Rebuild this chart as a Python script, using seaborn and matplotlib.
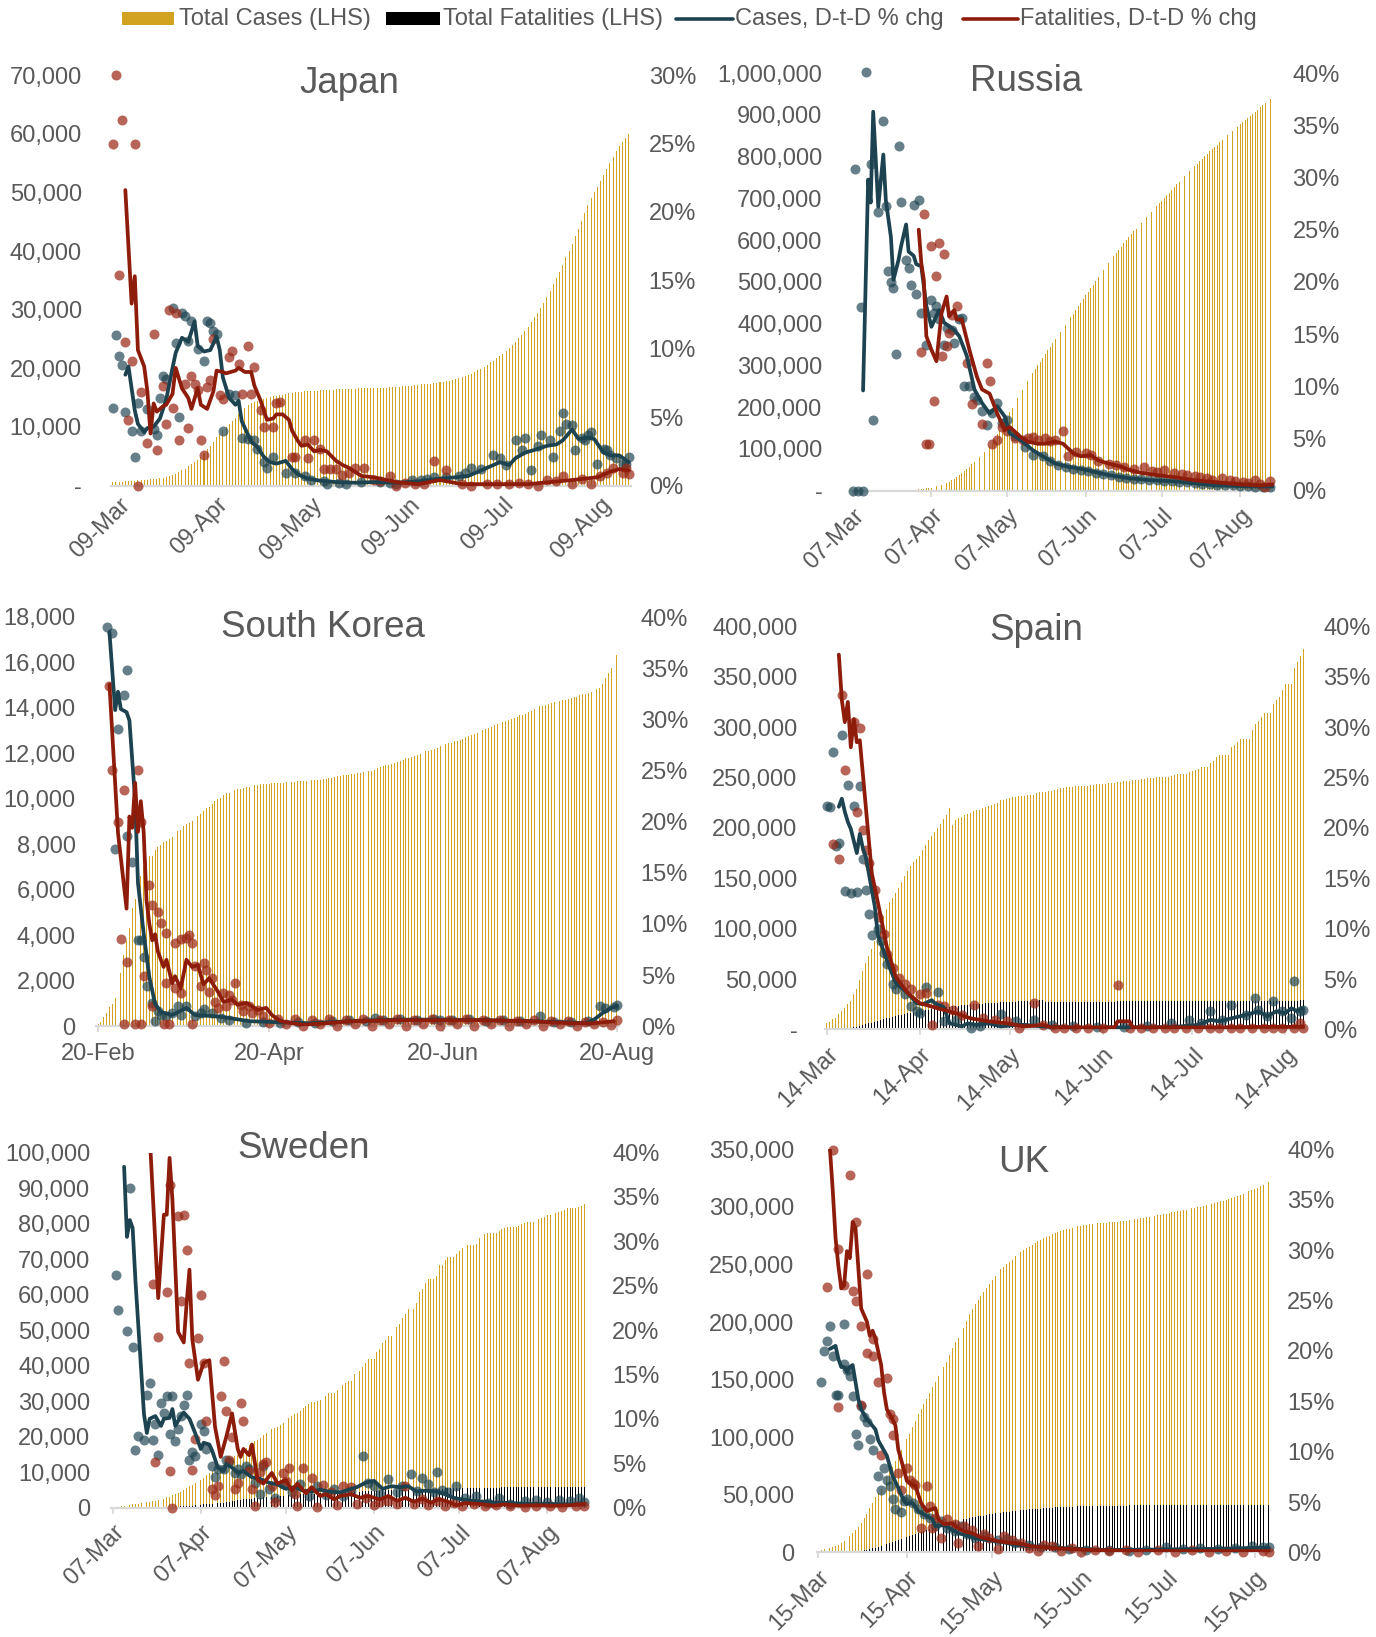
import matplotlib
matplotlib.use("Agg")
import numpy as np
import pandas as pd
import seaborn as sns
import matplotlib.pyplot as plt
from matplotlib.patches import Rectangle
from matplotlib.lines import Line2D

# ---------------- data (cases / fatalities in thousands, changes in %) ----------------
jp_start = "2020-03-07"
jp_cases = [0.6,0.62,0.65,0.68,0.72,0.76,0.8,0.84,0.88,0.92,
            0.96,1.0,1.05,1.1,1.15,1.2,1.3,1.4,1.55,1.75,
            2.0,2.3,2.6,2.9,3.3,3.7,4.0,4.3,4.9,5.6,
            6.2,6.8,7.5,8.2,8.8,9.4,10.0,10.5,11.0,11.6,
            12.2,12.8,13.3,13.7,14.0,14.3,14.5,14.7,14.8,15.0,
            15.1,15.2,15.3,15.4,15.5,15.6,15.7,15.8,15.9,15.95,
            16.0,16.05,16.1,16.15,16.2,16.2,16.25,16.3,16.3,16.35,
            16.35,16.4,16.4,16.45,16.45,16.5,16.5,16.5,16.55,16.55,
            16.6,16.6,16.6,16.65,16.65,16.7,16.7,16.7,16.75,16.75,
            16.8,16.85,16.9,16.95,17.0,17.05,17.1,17.2,17.25,17.3,
            17.35,17.4,17.45,17.5,17.6,17.7,17.8,17.9,18.0,18.2,
            18.35,18.5,18.7,18.9,19.1,19.4,19.7,19.9,20.2,20.6,
            21.0,21.3,21.7,22.1,22.5,22.9,23.4,23.9,24.5,25.1,
            25.7,26.4,27.1,27.9,28.7,29.5,30.3,31.2,32.2,33.2,
            34.3,35.4,36.5,37.7,38.9,40.0,41.2,42.5,43.8,45.2,
            46.5,47.8,49.0,50.0,51.0,52.0,53.0,54.0,55.0,56.0,
            57.0,57.9,58.6,59.3,59.9]
jp_case_line = [(4,8.1),(5,8.7),(7,5.5),(8,4.5),(10,3.9),(11,4.2),(13,4.3),(15,4.9),(17,6.3),(19,8.6),
                (20,9.7),(22,10.8),(24,10.5),(26,12.0),(27,10.2),(29,9.8),(31,9.9),(33,10.9),(34,9.9),(35,7.9),
                (37,6.4),(39,5.9),(40,6.2),(41,4.7),(43,3.7),(44,3.2),(46,2.8),(48,2.1),(50,1.7),(52,1.6),
                (55,1.8),(57,1.2),(59,0.8),(62,0.5),(66,0.35),(71,0.25),(77,0.2),(83,0.25),(90,0.2),(97,0.3),
                (104,0.5),(109,0.6),(113,0.7),(119,1.3),(123,1.7),(126,1.5),(128,2.0),(131,2.4),(134,2.6),(138,2.9),
                (141,3.0),(143,3.3),(146,4.1),(148,3.4),(151,3.5),(153,3.4),(156,2.4),(158,2.2),(161,2.2),(164,1.7)]
jp_fat_line = [(4,21.6),(6,13.3),(7,15.3),(8,9.9),(10,8.7),(11,6.9),(12,3.8),(13,6.0),(14,5.4),(16,5.8),
               (17,5.9),(19,6.7),(20,8.6),(22,7.1),(24,6.4),(25,5.6),(27,7.1),(28,5.9),(30,5.6),(32,6.9),
               (33,8.4),(35,8.3),(36,8.2),(39,8.4),(40,8.6),(42,8.3),(44,8.3),(45,7.3),(47,6.2),(49,4.8),
               (51,4.9),(52,5.2),(54,5.2),(56,4.8),(57,4.0),(59,3.2),(60,2.9),(62,3.0),(64,2.5),(66,2.6),
               (68,2.5),(71,1.8),(73,1.5),(75,1.3),(77,1.0),(79,0.7),(83,0.6),(90,0.25),(97,0.1),(104,0.4),
               (111,0.1),(119,0.1),(132,0.1),(139,0.25),(146,0.4),(154,0.6),(158,1.0),(161,1.2),(164,1.1)]
jp_case_dots = [(0,5.7),(1,11.0),(2,9.5),(3,8.8),(4,5.4),(6,4.0),(7,2.1),(8,6.0),(9,4.0),(11,5.6),
                (13,4.1),(14,3.7),(15,6.4),(16,8.0),(17,7.8),(19,13.0),(20,10.4),(21,5.0),(22,12.6),(23,12.4),
                (24,10.6),(25,12.0),(27,10.0),(29,9.1),(30,12.0),(31,11.9),(32,11.3),(33,11.1),(35,4.0),(37,6.7),
                (39,6.6),(41,3.5),(43,3.4),(45,3.3),(46,2.7),(48,1.7),(49,1.3),(51,2.1),(55,0.9),(58,0.9),
                (61,0.7),(63,0.4),(67,0.3),(68,0.1),(72,0.2),(74,0.1),(79,0.25),(85,0.25),(88,0.2),(90,0.1),
                (95,0.4),(98,0.4),(100,0.5),(102,0.6),(106,0.6),(110,0.7),(112,0.9),(114,1.3),(117,1.2),(121,2.2),
                (123,2.0),(125,1.5),(128,3.3),(130,2.6),(131,3.5),(133,1.1),(135,2.9),(136,3.7),(139,3.3),(140,2.1),
                (142,4.0),(143,5.3),(144,4.5),(146,4.4),(147,2.6),(149,3.5),(150,3.3),(151,3.7),(152,3.9),(154,1.6),
                (156,2.7),(157,2.6),(158,2.2),(160,2.0),(162,1.6),(163,1.6),(164,2.1)]
jp_fat_dots = [(0,25.0),(1,30.0),(3,26.7),(7,25.0),(2,15.4),(4,10.5),(6,9.1),(5,4.8),(8,0.0),(9,6.8),
               (11,3.1),(13,11.1),(14,2.6),(16,7.3),(17,4.5),(18,12.8),(19,5.7),(20,12.6),(21,3.3),(23,7.4),
               (24,4.2),(25,8.0),(26,7.4),(27,7.0),(28,3.3),(29,2.2),(30,7.2),(31,7.7),(32,10.7),(34,6.6),
               (35,6.3),(37,9.4),(38,9.8),(40,8.9),(41,6.7),(43,10.2),(44,6.7),(45,8.7),(47,5.5),(48,4.3),
               (51,4.3),(52,6.0),(53,6.1),(57,2.1),(58,2.1),(61,3.3),(62,2.0),(64,3.3),(66,2.7),(67,1.2),
               (69,1.2),(71,1.2),(73,0.8),(75,0.9),(77,1.3),(80,1.3),(83,0.4),(85,0.3),(88,0.7),(90,0.0),
               (93,0.2),(96,0.1),(99,0.1),(102,1.8),(106,1.1),(111,0.1),(114,0.0),(119,0.1),(122,0.1),(126,0.1),
               (129,0.2),(132,0.1),(135,0.0),(138,0.4),(141,0.3),(143,0.7),(146,0.1),(149,0.5),(152,0.1),(155,0.7),
               (157,0.9),(159,1.3),(162,0.9),(163,1.3),(164,0.85)]

ru_start = "2020-03-07"
ru_cases = [0.01,0.01,0.02,0.02,0.03,0.03,0.04,0.06,0.06,0.09,
            0.11,0.15,0.2,0.25,0.3,0.37,0.44,0.5,0.66,0.84,
            1.04,1.26,1.53,1.84,2.34,
            2.8,3.5,4.1,4.7,5.4,6.3,7.5,8.7,10.1,11.9,
            13.6,15.8,18.3,21.1,24.5,27.9,32.0,36.8,42.9,47.1,
            52.8,57.9,62.8,68.6,74.6,80.9,87.1,93.6,99.4,106.5,
            114.4,124.1,134.7,145.3,155.4,165.9,177.2,187.9,198.7,209.7,
            221.3,232.2,242.3,252.2,262.8,272.0,281.8,290.7,299.9,308.7,
            317.6,326.4,335.9,344.5,353.4,362.3,370.7,379.1,387.6,396.6,405.8,
            414.9,423.2,432.3,441.1,449.8,458.7,467.7,476.7,485.3,493.7,
            502.4,511.4,520.1,528.9,537.2,545.5,553.3,561.1,569.1,576.9,
            584.7,592.3,599.7,606.9,613.9,620.8,627.6,634.4,641.2,647.8,
            654.4,661.2,667.9,674.5,681.3,687.9,694.2,700.8,707.3,713.9,
            720.5,727.2,733.7,739.9,746.4,752.8,759.2,765.4,771.5,777.5,
            783.3,789.2,795.0,800.8,806.7,812.5,818.1,823.5,828.9,834.5,839.9,
            845.4,850.9,856.3,861.4,866.6,871.9,877.1,882.3,887.5,892.6,
            897.6,902.7,907.8,912.8,917.9,922.9,927.7,932.5,937.3,942.1]
ru_case_line = [(4,9.6),(6,29.8),(7,27.6),(8,36.3),(10,27.2),(12,32.2),(13,27.8),(15,24.3),(16,20.2),(18,22.1),
                (19,23.4),(21,25.5),(22,22.9),(24,22.5),(25,21.7),(27,21.5),(29,17.7),(31,15.7),(34,17.3),(36,16.1),
                (40,15.4),(42,14.8),(45,12.9),(48,9.7),(51,8.4),(54,7.4),(57,8.1),(60,7.1),(62,5.5),(66,4.9),
                (71,3.9),(75,3.3),(80,2.6),(85,2.3),(92,2.0),(101,1.5),(109,1.2),(118,1.0),(127,0.9),(135,0.7),
                (144,0.5),(153,0.45),(161,0.4),(166,0.4)]
ru_fat_line = [(26,25.0),(27,21.8),(28,20.2),(29,14.8),(31,13.5),(33,12.4),(35,17.0),(37,18.6),(38,16.7),(40,17.3),
               (41,16.4),(43,16.4),(46,13.5),(49,10.9),(51,9.7),(54,9.3),(57,7.4),(60,5.8),(62,6.1),(66,5.2),
               (69,4.7),(73,4.5),(76,4.5),(80,4.7),(83,4.5),(87,3.6),(90,3.3),(94,3.4),(97,2.9),(101,2.6),
               (106,2.3),(109,2.0),(114,1.7),(120,1.5),(127,1.3),(135,1.0),(144,0.8),(153,0.6),(161,0.5),(166,0.6)]
ru_case_dots = [(0,0.0),(2,0.0),(4,0.0),(1,30.8),(3,17.6),(5,40.1),(7,31.3),(8,6.8),(10,26.7),(12,35.4),
                (13,27.3),(14,21.0),(15,20.0),(16,19.4),(17,13.1),(18,33.0),(19,27.7),(21,22.1),(22,21.3),(23,19.7),
                (24,27.4),(25,18.8),(26,27.8),(27,17.0),(29,14.0),(31,18.3),(32,17.0),(33,17.7),(34,16.4),(36,14.0),
                (37,15.6),(39,15.4),(40,14.1),(42,16.4),(43,16.5),(44,10.0),(46,10.0),(48,9.0),(49,8.7),(51,7.6),
                (53,6.3),(55,7.4),(57,8.4),(59,6.5),(61,6.8),(64,5.2),(68,4.2),(71,3.4),(75,3.3),(78,2.8),
                (81,2.5),(84,2.3),(87,2.1),(90,2.0),(93,1.9),(96,1.7),(99,1.6),(102,1.5),(105,1.3),(108,1.2),
                (111,1.15),(114,1.1),(117,1.0),(120,1.0),(123,0.95),(126,0.9),(129,0.85),(132,0.8),(135,0.7),(138,0.65),
                (141,0.6),(144,0.55),(147,0.5),(150,0.5),(153,0.45),(156,0.45),(159,0.4),(162,0.4),(165,0.4)]
ru_fat_dots = [(28,26.5),(27,13.3),(31,23.4),(34,23.7),(36,22.7),(33,20.6),(32,8.6),(29,4.5),(30,4.5),(35,12.9),
               (37,13.9),(38,15.1),(39,16.8),(41,17.7),(45,12.2),(51,6.4),(53,12.2),(54,10.5),(47,8.3),(55,4.5),
               (57,4.9),(59,6.1),(61,5.7),(64,5.0),(67,4.9),(69,5.0),(71,5.1),(73,4.9),(76,5.0),(78,4.8),
               (80,4.9),(83,5.7),(85,3.3),(88,3.7),(92,3.6),(94,3.4),(97,2.8),(101,2.6),(104,2.5),(107,2.3),
               (111,2.1),(115,2.3),(118,1.9),(120,1.8),(123,2.0),(127,1.7),(130,1.6),(132,1.5),(135,1.4),(137,1.3),
               (140,1.2),(142,1.0),(146,1.2),(149,1.0),(151,0.9),(154,0.8),(156,0.7),(159,1.0),(161,0.6),(163,0.4),
               (165,0.9)]

kr_start = "2020-02-20"
kr_cases = [0.10,0.20,0.43,0.60,0.83,0.98,1.26,1.77,2.34,3.15,
            3.74,4.34,5.19,5.62,6.09,6.59,7.04,7.31,7.48,7.51,
            7.76,7.87,7.98,8.09,8.16,8.24,8.32,8.41,8.57,8.65,
            8.80,8.90,8.96,9.04,9.14,9.24,9.33,9.48,9.58,9.66,9.79,
            9.89,9.98,10.06,10.16,10.24,10.28,10.33,10.38,10.42,10.45,
            10.48,10.51,10.54,10.56,10.59,10.61,10.64,10.65,10.66,
            10.67,10.68,10.69,10.70,10.71,10.72,10.73,10.74,10.75,10.76,10.77,
            10.77,10.78,10.79,10.80,10.81,10.82,10.83,10.84,10.87,10.87,
            10.91,10.94,10.96,10.99,11.02,11.04,11.05,11.07,11.08,11.11,
            11.12,11.14,11.17,11.19,11.21,11.23,11.27,11.34,11.40,11.44,11.47,
            11.50,11.54,11.59,11.63,11.67,11.72,11.78,11.81,11.85,11.90,
            11.95,11.99,12.05,12.09,12.12,12.16,12.20,12.26,12.31,12.37,
            12.42,12.44,12.48,12.54,12.56,12.60,12.65,12.72,12.76,12.80,
            12.85,12.90,12.97,13.03,13.09,13.14,13.18,13.24,13.29,13.34,
            13.37,13.42,13.48,13.51,13.55,13.61,13.67,13.71,13.75,13.82,
            13.88,13.94,13.98,14.09,14.09,14.15,14.18,14.20,14.25,14.27,14.30,
            14.34,14.37,14.39,14.42,14.46,14.50,14.56,14.60,14.63,14.66,
            14.71,14.77,14.82,14.87,15.04,15.32,15.52,15.76,16.06,16.35]
kr_case_line = [(4,38.5),(6,30.9),(7,32.7),(8,31.0),(10,30.7),(11,29.9),(13,22.1),(14,14.0),(16,9.1),(18,4.8),
                (20,2.2),(22,1.4),(26,1.1),(31,1.8),(34,1.1),(40,1.0),(44,0.9),(53,0.5),(63,0.4),(74,0.3),
                (89,0.5),(104,0.65),(120,0.65),(135,0.6),(151,0.5),(163,0.4),(171,0.3),(174,0.65),(177,1.3),(180,1.8),
                (182,2.0)]
kr_fat_line = [(4,33.4),(7,18.9),(10,11.5),(11,20.5),(12,19.4),(13,23.8),(14,19.0),(15,22.0),(16,19.0),(17,12.3),
               (18,10.0),(19,8.4),(20,9.0),(21,7.3),(23,5.8),(24,6.5),(26,4.2),(27,4.9),(29,3.7),(31,6.5),
               (33,5.8),(35,6.0),(37,4.1),(39,4.7),(42,3.4),(44,2.4),(47,2.6),(49,2.1),(52,2.3),(56,1.6),
               (59,1.8),(61,1.1),(64,0.5),(68,0.3),(72,0.15),(80,0.3),(89,0.5),(104,0.6),(120,0.6),(135,0.6),
               (151,0.5),(166,0.3),(174,0.3),(181,0.5)]
kr_case_dots = [(3,39.0),(5,38.4),(10,34.8),(7,29.1),(9,32.4),(6,17.3),(10,18.6),(12,16.1),(14,8.4),(15,8.4),
                (16,6.8),(17,3.9),(19,2.3),(20,0.5),(21,1.5),(22,1.1),(24,1.0),(26,1.3),(28,2.0),(29,1.1),
                (31,2.0),(34,1.0),(36,1.3),(37,1.7),(40,1.3),(43,0.8),(46,0.65),(52,0.3),(58,0.4),(64,0.3),
                (70,0.4),(76,0.3),(82,0.5),(88,0.6),(94,0.5),(97,0.8),(100,0.6),(106,0.7),(112,0.6),(118,0.7),
                (120,0.65),(124,0.6),(130,0.7),(136,0.5),(142,0.6),(148,0.5),(155,1.0),(160,0.4),(166,0.4),(172,0.5),
                (176,2.0),(178,1.8),(181,1.9),(182,2.1)]
kr_fat_dots = [(4,33.3),(5,25.0),(7,20.0),(8,8.5),(9,0.2),(9,23.1),(10,6.3),(13,0.2),(14,25.0),(15,0.2),
               (15,20.0),(16,4.9),(18,13.8),(19,11.9),(19,2.0),(21,11.2),(22,10.1),(23,0.2),(24,9.1),(24,4.2),
               (25,0.2),(27,8.1),(27,3.7),(29,8.5),(29,3.3),(31,8.6),(32,8.9),(33,0.2),(33,8.1),(34,5.9),
               (36,3.9),(37,6.2),(38,5.5),(39,3.4),(40,4.7),(41,2.4),(42,1.8),(44,3.3),(45,2.0),(46,3.1),
               (47,2.6),(48,4.2),(50,2.1),(51,1.5),(53,2.0),(54,1.3),(56,1.6),(58,1.0),(60,0.3),(63,0.7),
               (66,0.2),(69,0.7),(72,0.0),(75,0.6),(78,0.2),(81,0.7),(84,0.0),(87,0.6),(90,0.2),(93,0.7),
               (96,0.0),(99,0.6),(102,0.2),(105,0.7),(108,0.0),(111,0.6),(114,0.2),(117,0.7),(120,0.0),(123,0.6),
               (126,0.2),(129,0.7),(132,0.0),(135,0.6),(138,0.2),(141,0.6),(144,0.0),(147,0.5),(150,0.2),(153,0.6),
               (156,0.0),(159,0.5),(162,0.2),(165,0.5),(168,0.0),(171,0.4),(174,0.2),(177,0.4),(180,0.1),(182,0.6)]

es_start = "2020-03-14"
es_cases = [6.4,7.8,9.9,11.8,14.8,18.1,21.6,25.5,28.6,35.1,
            39.9,49.5,57.8,65.7,73.2,80.1,87.9,95.9,
            104.1,112.1,119.2,126.2,130.8,135.0,140.5,146.7,152.4,157.0,
            161.9,166.0,169.5,
            172.5,177.6,182.8,188.1,191.7,195.9,200.2,204.2,208.4,213.0,219.8,
            203.0,207.6,209.5,210.8,212.9,213.4,
            215.2,216.6,217.5,218.0,219.3,220.3,221.4,222.9,223.6,224.4,
            227.4,228.0,228.7,229.5,230.2,230.7,231.4,231.6,232.0,232.6,
            233.0,233.0,234.8,235.3,235.4,235.8,236.3,237.0,237.9,238.3,239.2,
            239.6,240.3,240.7,241.0,241.3,241.6,241.7,241.7,241.9,242.3,
            242.7,243.2,243.6,243.9,243.9,244.1,244.3,244.7,245.3,245.6,
            246.3,246.5,246.8,247.1,247.5,247.9,248.5,248.8,249.3,249.3,
            249.7,250.1,250.5,250.5,250.5,251.0,251.8,252.5,253.1,253.9,
            253.9,253.9,255.0,256.6,257.5,258.9,260.3,260.3,260.3,264.1,
            266.2,270.2,272.4,272.4,272.4,272.4,280.6,282.6,285.4,288.5,288.5,
            288.5,288.5,297.1,302.8,305.8,309.9,314.4,314.4,314.4,322.9,
            326.6,329.8,337.3,342.8,342.8,342.8,359.1,364.2,370.9,377.9]
es_deaths = [0.20,0.29,0.34,0.53,0.6,0.83,1.04,1.38,1.76,2.31,
             2.8,3.43,4.15,5.14,5.98,6.8,7.72,8.46,
             9.39,10.0,10.9,11.7,12.4,13.1,13.8,14.6,15.2,15.8,
             16.4,16.97,17.5,18.1,18.6,19.1,19.6,20.0,20.4,20.9,
             21.3,21.7,22.2,22.5,22.9,23.2,23.5,23.8,24.3,24.5,
             24.8,25.1,25.3,25.4,25.6,25.8,26.1,26.3,26.5,26.6,
             26.7,26.9,27.1,27.3,27.5,27.6,27.7,27.7,27.8,27.9,
             27.9,28.0,28.6,28.7,28.8,26.8,27.1,27.1,27.1,27.1,27.1,
             27.1,27.1,27.1,27.1,27.1,27.1,27.1,27.1,27.1,27.1,
             27.1,27.2,27.2,27.2,27.2,27.2,27.2,27.2,28.3,28.3,
             28.3,28.3,28.3,28.3,28.3,28.3,28.3,28.3,28.3,28.4,
             28.4,28.4,28.4,28.4,28.4,28.4,28.4,28.4,28.4,28.4,
             28.4,28.4,28.4,28.4,28.4,28.4,28.4,28.4,28.4,28.4,
             28.4,28.4,28.4,28.4,28.4,28.4,28.4,28.4,28.4,28.4,28.4,
             28.5,28.5,28.5,28.5,28.5,28.5,28.5,28.5,28.5,28.5,
             28.6,28.6,28.6,28.6,28.6,28.6,28.6,28.6,28.7,28.8]
es_case_line = [(4,22.1),(5,22.9),(6,21.6),(7,20.6),(8,19.9),(10,17.5),(11,19.4),(12,18.0),(13,17.1),(14,15.5),
                (16,12.2),(17,9.4),(20,6.9),(23,4.6),(27,3.6),(30,2.6),(32,2.5),(35,2.9),(36,2.6),(39,2.2),
                (41,0.6),(45,0.3),(47,0.6),(50,0.45),(54,0.6),(58,0.3),(63,0.45),(66,0.45),(72,0.3),(79,0.2),
                (87,0.1),(94,0.2),(101,0.2),(109,0.2),(116,0.25),(124,0.45),(128,0.95),(131,0.8),(135,1.1),(140,1.45),
                (144,1.8),(147,1.3),(150,1.8),(153,1.6),(155,2.1),(157,1.8),(159,2.1)]
es_fat_line = [(4,37.2),(5,32.7),(6,30.5),(7,32.5),(8,28.0),(9,30.8),(10,28.5),(11,28.7),(13,22.1),(15,15.5),
               (18,11.2),(20,8.2),(23,5.2),(27,3.6),(31,2.6),(37,2.1),(43,1.6),(48,1.1),(54,0.8),(60,0.6),
               (66,0.3),(72,0.45),(75,0.2),(87,0.2),(96,0.2),(97,0.8),(101,0.8),(102,0.2),(116,0.2),(131,0.2),
               (146,0.25),(159,0.25)]
es_case_dots = [(0,22.2),(1,22.1),(2,27.5),(3,18.2),(4,18.5),(5,29.2),(6,13.7),(7,24.3),(8,13.5),(9,22.2),
                (10,13.6),(11,24.2),(12,16.9),(13,13.8),(14,11.5),(15,9.4),(17,10.0),(18,8.8),(19,7.6),(20,6.5),
                (22,4.5),(23,4.0),(26,3.5),(28,2.3),(30,1.8),(31,1.6),(33,4.2),(37,3.7),(39,0.8),(43,0.9),
                (48,0.1),(51,0.3),(58,1.5),(63,0.8),(69,0.9),(75,0.4),(82,0.3),(90,0.2),(99,0.25),(107,0.3),
                (115,0.6),(121,0.9),(125,0.6),(128,1.8),(132,0.9),(135,2.4),(140,1.4),(143,3.1),(144,1.9),(147,1.3),
                (149,2.8),(152,1.8),(155,1.1),(156,4.8),(158,1.8),(159,1.9)]
es_fat_dots = [(5,33.2),(6,25.7),(2,18.4),(4,16.9),(9,30.5),(11,29.9),(10,21.6),(12,19.8),(13,17.8),(14,16.5),
               (16,13.8),(17,11.2),(19,9.5),(20,7.5),(22,6.1),(24,5.1),(26,4.5),(28,4.0),(31,3.5),(33,3.6),
               (35,0.4),(37,2.4),(39,2.3),(42,1.9),(45,1.4),(49,2.4),(52,1.1),(56,0.9),(60,0.8),(64,0.1),
               (69,2.6),(72,0.4),(76,0.1),(79,0.1),(83,0.1),(87,0.1),(92,0.1),(97,4.4),(101,0.1),(105,0.1),
               (109,0.1),(113,0.1),(116,0.1),(120,0.1),(124,0.1),(128,0.1),(131,0.1),(135,0.1),(138,0.1),(142,0.1),
               (146,0.1),(149,0.1),(152,0.1),(156,0.1),(158,0.6),(159,0.1)]

se_start = "2020-03-07"
se_cases = [0.16,0.2,0.25,0.33,0.5,0.6,0.78,0.96,1.02,1.1,
            1.19,1.28,1.44,1.64,1.77,1.93,2.05,2.27,2.53,2.84,
            3.07,3.45,3.7,4.03,4.44,
            4.95,5.57,6.13,6.44,6.83,7.21,7.69,8.42,9.14,9.69,
            10.15,10.48,10.95,11.45,11.93,12.54,13.22,13.82,14.39,14.78,
            15.32,16.0,16.76,17.57,18.18,18.64,18.93,19.62,20.3,21.09,
            21.52,22.08,22.32,22.72,23.22,23.92,24.62,25.27,25.92,26.32,
            26.67,27.27,27.91,28.58,29.21,29.68,29.68,30.14,30.38,30.8,
            31.52,32.17,32.17,32.17,33.19,33.84,34.44,35.09,35.73,35.73,37.54,
            37.81,38.59,39.62,40.8,41.88,41.88,41.88,43.89,44.73,46.3,
            47.1,48.29,48.29,48.29,50.93,51.61,53.32,54.56,56.04,56.04,
            56.04,57.53,60.84,61.6,63.34,64.45,64.45,64.45,65.14,68.45,
            68.45,69.69,70.61,70.61,70.61,71.42,72.29,73.06,73.34,73.86,
            73.86,73.86,74.33,75.83,76.43,76.93,77.28,77.28,77.28,77.28,
            78.05,78.51,78.76,79.06,79.06,79.06,79.06,79.39,79.78,80.1,80.42,
            80.42,80.42,81.01,81.18,81.54,81.97,82.32,82.32,82.32,82.97,
            83.13,83.46,83.95,84.29,84.29,84.29,84.53,84.73,85.05,85.41]
se_deaths = [0,0,0,0,0.001,0.001,0.001,0.002,0.003,0.006,
             0.007,0.01,0.016,0.02,0.021,0.025,0.036,0.062,0.077,0.105,
             0.11,0.146,0.179,0.239,0.308,
             0.36,0.4,0.45,0.5,0.59,0.69,0.79,0.89,0.92,0.92,
             0.92,1.03,1.2,1.33,1.4,1.51,1.58,1.76,1.94,2.07,
             2.19,2.27,2.33,2.42,2.5,2.6,2.68,2.76,2.85,2.95,
             3.0,3.03,3.06,3.16,3.24,3.31,3.41,3.47,3.5,3.6,
             3.65,3.68,3.77,3.82,3.86,3.86,3.89,3.95,4.01,4.06,
             4.12,4.16,4.16,4.16,4.23,4.29,4.32,4.38,4.44,4.44,4.44,
             4.45,4.47,4.55,4.63,4.66,4.66,4.66,4.71,4.76,4.8,
             4.82,4.85,4.85,4.85,4.87,4.89,4.91,4.94,4.96,4.96,
             4.96,5.05,5.12,5.16,5.21,5.23,5.23,5.23,5.28,5.31,
             5.33,5.37,5.41,5.41,5.41,5.43,5.45,5.48,5.5,5.53,
             5.53,5.53,5.53,5.54,5.55,5.57,5.57,5.57,5.57,5.57,
             5.58,5.64,5.66,5.69,5.69,5.69,5.69,5.69,5.7,5.73,5.74,
             5.74,5.74,5.76,5.76,5.77,5.78,5.78,5.78,5.78,5.79,
             5.79,5.8,5.8,5.8,5.8,5.8,5.81,5.81,5.81,5.82]
se_case_line = [(4,38.4),(5,30.5),(6,32.4),(7,31.5),(8,25.5),(9,20.5),(10,15.5),(11,10.5),(12,8.4),(13,10.0),
                (15,10.3),(17,9.2),(18,10.0),(20,10.1),(21,11.1),(22,9.2),(24,10.3),(25,10.7),(27,10.0),(29,8.4),
                (31,6.6),(32,7.3),(34,7.1),(35,6.4),(37,4.5),(39,4.1),(40,4.9),(42,4.5),(44,3.9),(46,4.1),
                (49,3.4),(52,3.2),(55,2.8),(58,2.6),(61,2.1),(64,2.3),(67,1.9),(70,1.8),(73,2.0),(76,1.8),
                (80,1.7),(83,2.0),(86,2.3),(89,2.8),(92,3.0),(95,2.1),(98,2.4),(101,2.3),(104,2.4),(107,1.8),
                (110,1.9),(114,1.8),(117,1.5),(120,1.1),(123,0.9),(127,0.75),(131,0.65),(135,0.55),(140,0.5),(146,0.4),
                (154,0.4),(161,0.35),(166,0.4)]
se_fat_line = [(13,42.0),(16,23.6),(18,33.0),(19,33.0),(20,39.4),(21,34.7),(23,19.8),(25,18.6),(26,23.0),(27,26.8),
               (28,19.0),(30,14.4),(32,16.3),(34,16.6),(36,9.1),(38,5.7),(40,8.0),(42,10.6),(44,6.6),(45,5.7),
               (46,6.6),(48,5.9),(49,7.1),(51,3.1),(53,2.7),(56,3.9),(58,2.7),(61,3.1),(63,1.9),(65,2.7),
               (68,1.6),(70,2.3),(73,1.3),(75,1.5),(78,0.9),(80,1.3),(84,1.5),(87,1.1),(90,1.3),(94,0.9),
               (97,1.3),(100,0.75),(103,1.1),(106,0.65),(109,1.0),(112,0.55),(115,0.95),(118,0.65),(121,0.25),(124,0.5),
               (129,0.4),(134,0.2),(138,0.35),(143,0.2),(149,0.25),(155,0.2),(161,0.25),(166,0.4)]
se_case_dots = [(1,26.2),(2,22.3),(5,19.9),(6,36.0),(7,18.1),(8,6.5),(9,8.1),(11,7.6),(12,12.7),(13,14.0),
                (14,7.6),(15,9.4),(16,5.9),(17,11.8),(18,10.6),(19,12.6),(20,8.3),(21,12.6),(22,7.5),(23,8.9),
                (24,10.3),(25,11.6),(26,12.7),(27,5.3),(28,6.2),(29,5.8),(31,9.4),(32,8.6),(33,6.6),(35,4.7),
                (36,3.4),(37,4.3),(39,4.3),(40,5.3),(41,5.1),(43,3.9),(44,4.3),(45,3.8),(47,4.7),(48,4.3),
                (50,2.8),(52,1.5),(53,4.7),(55,2.1),(57,1.1),(60,2.6),(63,1.7),(66,2.6),(69,1.3),(72,2.4),
                (75,1.4),(78,2.1),(81,1.3),(84,1.9),(88,5.8),(90,2.8),(92,2.4),(94,1.5),(97,3.2),(100,1.7),
                (102,2.4),(105,3.8),(107,1.9),(109,3.3),(111,2.6),(113,1.7),(114,4.0),(116,2.0),(118,1.7),(121,2.4),
                (124,1.1),(128,1.3),(132,0.55),(136,1.1),(140,0.4),(145,0.75),(149,0.9),(153,0.65),(157,0.9),(161,0.75),
                (164,1.1),(166,0.65)]
se_fat_dots = [(14,25.2),(15,5.1),(16,19.2),(19,24.3),(20,4.1),(20,36.4),(21,0.0),(23,32.9),(25,33.0),(24,23.3),
               (26,29.0),(27,16.3),(28,4.2),(29,7.7),(30,19.1),(31,24.0),(32,16.3),(33,9.8),(35,2.1),(36,1.4),
               (37,2.4),(38,12.6),(39,16.5),(40,10.9),(41,5.3),(42,7.9),(43,2.1),(44,2.8),(45,11.8),(46,9.8),
               (48,4.1),(49,2.1),(50,0.2),(52,4.0),(53,4.9),(54,5.1),(56,2.4),(57,0.6),(60,3.9),(61,3.0),
               (62,4.5),(64,1.5),(65,0.2),(67,4.5),(70,3.3),(72,0.1),(74,2.5),(77,1.7),(79,0.3),(81,2.4),
               (84,2.3),(86,0.4),(89,1.1),(92,0.3),(94,0.6),(97,0.75),(100,0.4),(103,2.4),(106,0.4),(109,1.0),
               (111,0.3),(114,0.75),(117,0.2),(120,0.55),(123,0.2),(127,0.4),(131,0.2),(135,0.25),(140,0.2),(145,0.1),
               (149,0.2),(154,0.2),(158,0.1),(163,0.2),(166,0.2)]

uk_start = "2020-03-15"
uk_cases = [1.4,1.9,2.6,3.3,4.0,5.0,5.7,6.7,8.1,9.5,
            11.7,14.5,17.1,19.5,22.1,25.2,29.5,
            33.7,38.2,42.5,47.8,51.6,55.2,60.7,65.1,70.3,74.6,
            79.0,84.3,88.6,93.9,98.5,103.1,108.7,114.2,120.1,124.7,
            129.0,133.5,138.1,143.5,148.4,152.8,157.1,161.1,165.2,171.3,
            177.5,182.3,186.6,190.6,194.9,201.1,206.7,211.4,215.3,219.2,
            223.1,226.5,229.7,233.2,236.7,240.2,243.3,246.4,248.3,250.9,
            252.2,254.2,257.2,259.6,261.2,262.5,264.0,265.2,267.0,268.8,270.3,
            271.6,272.8,274.0,275.1,276.2,277.2,278.1,279.0,279.8,280.6,
            281.3,282.0,282.6,283.2,283.7,284.2,284.6,285.0,285.3,285.6,
            285.9,286.1,286.3,286.5,286.7,286.9,287.1,287.3,287.6,287.9,
            288.2,288.6,289.0,289.4,289.8,290.2,290.6,291.0,291.4,291.8,
            292.3,292.8,293.3,293.8,294.3,294.8,295.3,295.8,296.3,296.8,
            297.3,297.8,298.3,298.8,299.3,299.8,300.3,300.9,301.5,302.1,302.7,
            303.4,304.1,304.8,305.5,306.3,307.1,307.9,308.8,309.7,310.6,
            311.6,312.6,313.6,314.6,315.7,316.8,318.0,319.2,320.4,321.6]
uk_deaths = [0.02,0.03,0.05,0.08,0.1,0.14,0.18,0.23,0.3,0.4,
             0.5,0.65,0.8,1.0,1.25,1.5,1.9,
             2.4,2.9,3.5,4.1,4.7,5.3,6.0,6.9,7.8,8.8,
             9.7,10.6,11.4,12.4,13.4,14.3,15.3,16.2,17.1,18.0,
             18.9,19.8,20.6,21.5,22.3,23.0,23.5,24.2,24.9,25.6,
             26.3,26.9,27.4,27.9,28.6,29.2,29.8,30.4,30.8,31.2,
             31.6,32.0,32.5,33.0,33.4,33.8,34.1,34.4,34.8,35.2,
             35.5,35.8,36.1,36.3,36.5,36.8,37.0,37.3,37.6,37.8,37.9,
             38.1,38.3,38.5,38.7,38.9,39.0,39.1,39.2,39.4,39.5,
             39.6,39.7,39.8,39.9,40.0,40.0,40.1,40.2,40.2,40.3,
             40.3,40.4,40.4,40.5,40.5,40.6,40.6,40.6,40.7,40.7,
             40.7,40.8,40.8,40.8,40.9,40.9,40.9,41.0,41.0,41.0,
             41.0,41.1,41.1,41.1,41.1,41.2,41.2,41.2,41.2,41.2,
             41.3,41.3,41.3,41.3,41.3,41.3,41.4,41.4,41.4,41.4,41.4,
             41.4,41.4,41.4,41.5,41.5,41.5,41.5,41.5,41.5,41.5,
             41.5,41.6,41.6,41.6,41.6,41.6,41.6,41.6,41.6,41.6]
uk_case_line = [(4,20.2),(6,20.5),(7,19.2),(8,18.4),(9,18.4),(10,17.9),(11,18.4),(12,18.6),(14,15.2),(15,14.2),
                (17,13.2),(18,12.9),(20,12.2),(21,11.1),(24,9.6),(26,7.6),(28,6.4),(30,5.1),(31,4.8),(33,4.9),
                (35,4.1),(38,3.6),(40,3.3),(41,2.6),(44,2.7),(46,2.4),(49,1.9),(52,1.7),(55,1.4),(60,1.2),
                (65,1.0),(69,0.75),(75,0.6),(83,0.45),(91,0.35),(100,0.25),(109,0.25),(125,0.3),(140,0.35),(153,0.45),
                (158,0.45)]
uk_fat_line = [(4,40.2),(5,36.0),(6,31.2),(7,28.4),(8,26.2),(9,26.5),(10,29.9),(11,29.2),(12,32.8),(13,32.2),
               (14,28.2),(15,24.2),(17,22.9),(18,21.5),(19,22.0),(20,21.2),(22,18.6),(23,15.9),(24,14.2),(26,13.2),
               (27,12.6),(28,10.2),(30,8.2),(31,7.1),(33,6.7),(34,6.6),(36,4.9),(38,4.1),(41,4.4),(42,3.3),
               (44,2.8),(47,2.9),(49,2.4),(51,2.1),(54,1.9),(57,1.5),(60,1.3),(63,1.1),(66,1.0),(71,0.85),
               (75,0.6),(82,0.45),(88,0.35),(94,0.25),(102,0.2),(109,0.15),(125,0.13),(140,0.13),(158,0.13)]
uk_case_dots = [(1,16.9),(2,20.0),(3,21.0),(4,22.5),(5,19.5),(6,15.6),(7,15.6),(9,22.7),(9,18.7),(10,18.1),
                (11,17.5),(12,15.5),(13,11.8),(14,10.7),(15,14.5),(16,13.4),(17,12.9),(18,11.3),(19,10.2),(21,7.6),
                (22,6.2),(23,8.4),(24,7.2),(25,6.6),(26,5.3),(27,4.3),(29,4.0),(30,5.1),(31,5.3),(33,4.9),
                (35,4.3),(37,3.8),(39,3.4),(41,2.6),(43,3.1),(45,2.4),(48,2.1),(50,2.6),(52,1.8),(55,1.4),
                (58,1.6),(63,1.2),(66,1.3),(69,0.9),(74,0.75),(78,0.5),(83,0.5),(88,0.35),(94,0.25),(102,0.25),
                (109,0.1),(115,0.25),(122,0.5),(128,0.35),(134,0.4),(140,0.35),(146,0.45),(152,0.6),(156,0.5),(158,0.5)]
uk_fat_dots = [(5,39.9),(3,26.3),(7,30.1),(7,14.4),(9,26.5),(11,37.5),(12,25.9),(13,32.8),(13,25.0),(15,14.6),
               (15,22.5),(17,19.8),(17,27.6),(19,21.2),(19,19.5),(21,16.9),(22,9.7),(24,17.3),(25,13.7),(26,13.2),
               (26,11.7),(28,7.9),(29,6.2),(31,8.4),(32,7.2),(33,6.9),(34,6.7),(36,2.4),(38,6.6),(39,4.6),
               (40,2.4),(41,3.4),(43,1.4),(45,3.3),(48,2.8),(49,0.9),(51,2.6),(54,2.2),(56,0.6),(58,1.8),
               (60,1.4),(63,0.3),(65,1.6),(68,1.2),(71,0.9),(74,0.45),(77,0.1),(79,0.75),(82,0.6),(85,0.1),
               (89,0.45),(92,0.0),(97,0.25),(102,0.1),(108,0.25),(112,0.05),(119,0.2),(125,0.05),(131,0.2),(137,0.05),
               (143,0.13),(149,0.05),(156,0.1),(158,0.05)]

# ---------------- layout (pixel geometry of each panel) ----------------
W, H = 1376, 1637
GOLD = "#D2A321"
BLUE = "#1D4350"
RED = "#8E1C0B"
RED_DOT = "#9A2A18"
GREY = "#595959"
AXIS = "#D9D9D9"

panels = [
    dict(name="Japan", start=jp_start, cases=jp_cases, deaths=None,
         cline=jp_case_line, fline=jp_fat_line, cdots=jp_case_dots, fdots=jp_fat_dots,
         x0=112.8, ppd=3.146, ytop=75.2, ybot=485.5, ymax=70, ystep=10, pmax=30,
         zero="-", lpad=21, rpad=13, tick_len=0, rotate=True,
         ticks=["2020-03-09", "2020-04-09", "2020-05-09", "2020-06-09", "2020-07-09", "2020-08-09"],
         title_xy=(349.7, 83.5)),
    dict(name="Russia", start=ru_start, cases=ru_cases, deaths=None,
         cline=ru_case_line, fline=ru_fat_line, cdots=ru_case_dots, fdots=ru_fat_dots,
         x0=853.0, ppd=2.53, ytop=73.1, ybot=490.7, ymax=1000, ystep=100, pmax=40,
         zero="-", lpad=21, rpad=13, tick_len=4, rotate=True,
         ticks=["2020-03-07", "2020-04-07", "2020-05-07", "2020-06-07", "2020-07-07", "2020-08-07"],
         title_xy=(1026.0, 81.4)),
    dict(name="South Korea", start=kr_start, cases=kr_cases, deaths=None,
         cline=kr_case_line, fline=kr_fat_line, cdots=kr_case_dots, fdots=kr_fat_dots,
         x0=98.1, ppd=2.85, ytop=617.0, ybot=1026.3, ymax=18, ystep=2, pmax=40,
         zero="0", lpad=15, rpad=16, tick_len=4, rotate=False,
         ticks=["2020-02-20", "2020-04-20", "2020-06-20", "2020-08-20"],
         title_xy=(322.6, 627.4)),
    dict(name="Spain", start=es_start, cases=es_cases, deaths=es_deaths,
         cline=es_case_line, fline=es_fat_line, cdots=es_case_dots, fdots=es_fat_dots,
         x0=826.9, ppd=2.996, ytop=626.4, ybot=1029.4, ymax=400, ystep=50, pmax=40,
         zero="-", lpad=20, rpad=13, tick_len=4, rotate=True,
         ticks=["2020-03-14", "2020-04-14", "2020-05-14", "2020-06-14", "2020-07-14", "2020-08-14"],
         title_xy=(1036.7, 630.6)),
    dict(name="Sweden", start=se_start, cases=se_cases, deaths=se_deaths,
         cline=se_case_line, fline=se_fat_line, cdots=se_case_dots, fdots=se_fat_dots,
         x0=112.8, ppd=2.84, ytop=1152.6, ybot=1507.5, ymax=100, ystep=10, pmax=40,
         zero="0", lpad=15, rpad=19, tick_len=4, rotate=True,
         ticks=["2020-03-07", "2020-04-07", "2020-05-07", "2020-06-07", "2020-07-07", "2020-08-07"],
         title_xy=(303.8, 1148.4)),
    dict(name="UK", start=uk_start, cases=uk_cases, deaths=uk_deaths,
         cline=uk_case_line, fline=uk_fat_line, cdots=uk_case_dots, fdots=uk_fat_dots,
         x0=818.5, ppd=2.85, ytop=1149.4, ybot=1552.4, ymax=350, ystep=50, pmax=40,
         zero="0", lpad=16, rpad=12, tick_len=4, rotate=True,
         ticks=["2020-03-15", "2020-04-15", "2020-05-15", "2020-06-15", "2020-07-15", "2020-08-15"],
         title_xy=(1024.0, 1163.0)),
]

sns.set_theme(style="white")
plt.rcParams["font.family"] = ["Liberation Sans", "DejaVu Sans"]

fig = plt.figure(figsize=(W / 100, H / 100), dpi=100)
fig.patch.set_facecolor("white")


def to_dates(start, pairs):
    d, v = zip(*pairs)
    return start + pd.to_timedelta(list(d), unit="D"), list(v)


def draw_panel(p):
    start = pd.Timestamp(p["start"])
    dates = pd.date_range(start, periods=len(p["cases"]))
    left = p["x0"] - 0.6 * p["ppd"]
    right = p["x0"] + (len(p["cases"]) - 1 + 0.6) * p["ppd"]
    ax = fig.add_axes([left / W, 1 - p["ybot"] / H, (right - left) / W, (p["ybot"] - p["ytop"]) / H])
    ax.bar(dates, p["cases"], width=0.32, color=GOLD, linewidth=0)
    if p["deaths"] is not None:
        ax.bar(dates, p["deaths"], width=0.32, color="black", linewidth=0)
    ax.set_xlim(start - pd.Timedelta(hours=14), dates[-1] + pd.Timedelta(hours=14))
    ax.set_ylim(0, p["ymax"])

    yt = np.arange(0, p["ymax"] + p["ystep"] / 2, p["ystep"])
    ax.set_yticks(yt)
    ax.set_yticklabels([p["zero"] if t == 0 else f"{int(round(t * 1000)):,}" for t in yt])
    ax.tick_params(axis="y", labelsize=17, labelcolor=GREY, length=0, pad=p["lpad"])

    ax2 = ax.twinx()
    x, y = to_dates(start, p["cdots"])
    sns.scatterplot(x=x, y=y, ax=ax2, color=BLUE, alpha=0.68, s=52, linewidth=0, clip_on=False, legend=False)
    x, y = to_dates(start, p["fdots"])
    sns.scatterplot(x=x, y=y, ax=ax2, color=RED_DOT, alpha=0.72, s=52, linewidth=0, clip_on=False, legend=False)
    x, y = to_dates(start, p["cline"])
    sns.lineplot(x=x, y=y, ax=ax2, color=BLUE, linewidth=2.7, estimator=None)
    x, y = to_dates(start, p["fline"])
    sns.lineplot(x=x, y=y, ax=ax2, color=RED, linewidth=2.7, estimator=None)
    ax2.set_ylim(0, p["pmax"])
    pt = np.arange(0, p["pmax"] + 1, 5)
    ax2.set_yticks(pt)
    ax2.set_yticklabels([f"{t}%" for t in pt])
    ax2.tick_params(axis="y", labelsize=17, labelcolor=GREY, length=0, pad=p["rpad"])
    ax2.set_xlabel("")
    ax2.set_ylabel("")
    ax.set_xlim(start - pd.Timedelta(hours=14), dates[-1] + pd.Timedelta(hours=14))

    ticks = pd.to_datetime(p["ticks"])
    ax.set_xticks(ticks)
    labels = [t.strftime("%d-%b") for t in ticks]
    if p["rotate"]:
        ax.set_xticklabels(labels, rotation=45, ha="right", va="top", rotation_mode="anchor")
        ax.tick_params(axis="x", pad=6)
    else:
        ax.set_xticklabels(labels)
        ax.tick_params(axis="x", pad=8)
    ax.tick_params(axis="x", labelsize=17, labelcolor=GREY, length=p["tick_len"], width=1.3,
                   color=AXIS, direction="out", bottom=True)

    for s in ["top", "right", "left"]:
        ax.spines[s].set_visible(False)
    ax.spines["bottom"].set_color(AXIS)
    ax.spines["bottom"].set_linewidth(1.6)
    for s in ax2.spines.values():
        s.set_visible(False)
    ax.grid(False)
    ax2.grid(False)

    fig.text(p["title_xy"][0] / W, 1 - p["title_xy"][1] / H, p["name"], ha="center", va="center",
             fontsize=26.5, color=GREY)


for p in panels:
    draw_panel(p)

# ---------------- legend across the top ----------------
ly = 18.8
fig.add_artist(Rectangle((122 / W, 1 - 25 / H), 52 / W, 12.5 / H, transform=fig.transFigure,
                         facecolor=GOLD, edgecolor="none"))
fig.text(179 / W, 1 - ly / H, "Total Cases (LHS)", ha="left", va="center", fontsize=17, color=GREY)
fig.add_artist(Rectangle((386 / W, 1 - 25 / H), 54 / W, 12.5 / H, transform=fig.transFigure,
                         facecolor="black", edgecolor="none"))
fig.text(443 / W, 1 - ly / H, "Total Fatalities (LHS)", ha="left", va="center", fontsize=17, color=GREY)
fig.add_artist(Line2D([676 / W, 733 / W], [1 - ly / H, 1 - ly / H], transform=fig.transFigure,
                      color=BLUE, linewidth=2.6))
fig.text(735 / W, 1 - ly / H, "Cases, D-t-D % chg", ha="left", va="center", fontsize=17, color=GREY)
fig.add_artist(Line2D([963 / W, 1018 / W], [1 - ly / H, 1 - ly / H], transform=fig.transFigure,
                      color=RED, linewidth=2.6))
fig.text(1020 / W, 1 - ly / H, "Fatalities, D-t-D % chg", ha="left", va="center", fontsize=17, color=GREY)

fig.savefig("out.png", dpi=100, facecolor="white")
